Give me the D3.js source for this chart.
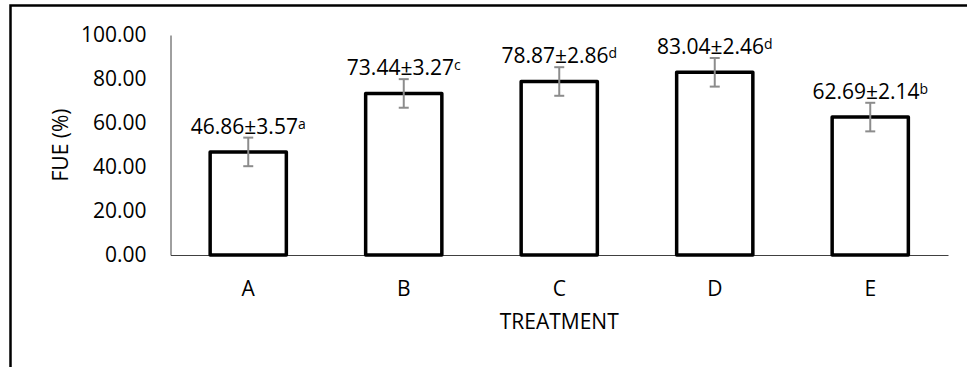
<!DOCTYPE html>
<html>
<head>
<meta charset="utf-8">
<script src="https://cdn.jsdelivr.net/npm/d3@7"></script>
<style>
  html, body { margin: 0; padding: 0; background: #ffffff; }
  svg { display: block; }
  text { font-family: "Open Sans", "Liberation Sans", sans-serif; fill: #000; }
</style>
</head>
<body>
<svg id="chart" width="967" height="367"></svg>
<script>
// Fertilizer use efficiency by treatment
const categories = ["A", "B", "C", "D", "E"];
const fueMean = [46.86, 73.44, 78.87, 83.04, 62.69];
const fueSD = [3.57, 3.27, 2.86, 2.46, 2.14];
const groupLetters = ["a", "c", "d", "d", "b"];
const yTicks = [0, 20, 40, 60, 80, 100];
const yTitle = "FUE (%)";
const xTitle = "TREATMENT";

const FONT = "Open Sans, sans-serif";
const FS = 21;

const svg = d3.select("#chart");

// Outer chart frame (runs past the right and bottom edges of the view)
svg.append("rect")
  .attr("x", 10.5).attr("y", 5.5)
  .attr("width", 1000).attr("height", 400)
  .attr("fill", "none")
  .attr("stroke", "#000")
  .attr("stroke-width", 2.5);

const plot = { left: 170.5, right: 948, top: 35, bottom: 255 };

const x = d3.scaleBand()
  .domain(categories)
  .range([plot.left, plot.right])
  .paddingInner(0.51)
  .paddingOuter(0.255);

const y = d3.scaleLinear()
  .domain([0, 100])
  .range([plot.bottom, plot.top]);

// Error bars show the standard error of the plotted series
const seriesSE = d3.deviation(fueMean) / Math.sqrt(fueMean.length);

const data = categories.map((c, i) => ({
  cat: c, mean: fueMean[i], sd: fueSD[i], letter: groupLetters[i]
}));

// Y axis: line only, labels to the left
const yAxis = d3.axisLeft(y)
  .tickValues(yTicks)
  .tickSize(0)
  .tickPadding(24)
  .tickFormat(d3.format(".2f"));

const gy = svg.append("g")
  .attr("transform", `translate(${plot.left},0)`)
  .call(yAxis);
gy.attr("font-size", FS).attr("font-family", FONT);
gy.select(".domain").attr("stroke", "#404040").attr("stroke-width", 1);
gy.selectAll(".tick text").attr("fill", "#000");

// X axis: baseline and category labels
const xAxis = d3.axisBottom(x).tickSize(0).tickPadding(26);
const gx = svg.append("g")
  .attr("transform", `translate(0,${plot.bottom})`)
  .call(xAxis);
gx.attr("font-size", FS).attr("font-family", FONT);
gx.select(".domain").attr("stroke", "#404040").attr("stroke-width", 1);
gx.selectAll(".tick text").attr("fill", "#000");

// Bars
svg.append("g").selectAll("rect")
  .data(data)
  .join("rect")
  .attr("x", d => x(d.cat))
  .attr("y", d => y(d.mean))
  .attr("width", x.bandwidth())
  .attr("height", d => y(0) - y(d.mean))
  .attr("fill", "#fff")
  .attr("stroke", "#000")
  .attr("stroke-width", 3.5)
  .attr("stroke-linejoin", "round");

// Error bars
const eb = svg.append("g")
  .attr("stroke", "#8c8c8c")
  .attr("stroke-width", 2)
  .selectAll("g")
  .data(data)
  .join("g")
  .attr("transform", d => `translate(${x(d.cat) + x.bandwidth() / 2},0)`);
eb.append("line")
  .attr("y1", d => y(d.mean + seriesSE))
  .attr("y2", d => y(d.mean - seriesSE));
eb.append("line")
  .attr("x1", -5).attr("x2", 5)
  .attr("y1", d => y(d.mean + seriesSE))
  .attr("y2", d => y(d.mean + seriesSE));
eb.append("line")
  .attr("x1", -5).attr("x2", 5)
  .attr("y1", d => y(d.mean - seriesSE))
  .attr("y2", d => y(d.mean - seriesSE));

// Value labels: mean ± SD with significance letter
const lbl = svg.append("g").selectAll("text")
  .data(data)
  .join("text")
  .attr("x", d => x(d.cat) + x.bandwidth() / 2)
  .attr("y", d => y(d.mean + seriesSE) - 4)
  .attr("text-anchor", "middle")
  .attr("font-size", FS);
lbl.append("tspan")
  .text(d => `${d.mean.toFixed(2)}±${d.sd.toFixed(2)}`);
lbl.append("tspan")
  .attr("font-size", 14)
  .attr("dy", -5)
  .text(d => d.letter);

// Axis titles
svg.append("text")
  .attr("transform", "translate(61,145) rotate(-90)")
  .attr("dy", "0.35em")
  .attr("text-anchor", "middle")
  .attr("font-size", FS)
  .text(yTitle);

svg.append("text")
  .attr("x", (plot.left + plot.right) / 2)
  .attr("y", 329)
  .attr("text-anchor", "middle")
  .attr("font-size", FS)
  .text(xTitle);
</script>
</body>
</html>
